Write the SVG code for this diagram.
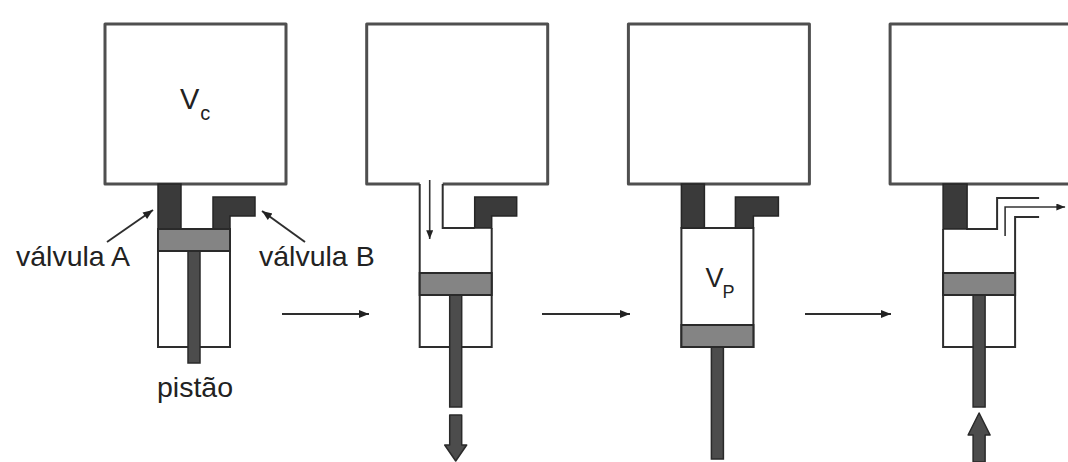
<svg xmlns="http://www.w3.org/2000/svg" width="1068" height="462" viewBox="0 0 1068 462">
  <style>
    .box { fill: #ffffff; stroke: #4f4f4f; stroke-width: 3; stroke-linejoin: round; }
    .wall { fill: none; stroke: #2e2e2e; stroke-width: 2; }
    .cyl { fill: #ffffff; stroke: #2e2e2e; stroke-width: 2; }
    .valve { fill: #3a3a3a; stroke: #262626; stroke-width: 1.5; }
    .piston { fill: #848484; stroke: #2a2a2a; stroke-width: 2; }
    .rod { fill: #4c4c4c; stroke: #2a2a2a; stroke-width: 1.5; }
    .push { fill: #4c4c4c; stroke: #2a2a2a; stroke-width: 1.5; stroke-linejoin: round; }
    .flow { fill: none; stroke: #333333; stroke-width: 1.6; }
    .conn { fill: none; stroke: #2e2e2e; stroke-width: 2; }
    .label { font-family: "Liberation Sans", Arial, sans-serif; font-size: 28.5px; fill: #222222; }
    .sym { font-family: "Liberation Sans", Arial, sans-serif; fill: #222222; }
  </style>
  <defs>
    <marker id="head" viewBox="0 0 10 8" refX="10" refY="4" markerWidth="12" markerHeight="8" markerUnits="userSpaceOnUse" orient="auto">
      <path d="M0,0 L10,4 L0,8 Z" fill="#222222"/>
    </marker>
    <marker id="headSmall" viewBox="0 0 10 8" refX="10" refY="4" markerWidth="9" markerHeight="7" markerUnits="userSpaceOnUse" orient="auto">
      <path d="M0,0 L10,4 L0,8 Z" fill="#222222"/>
    </marker>
  </defs>

  <!-- stage 1: piston at the top, both valves closed -->
  <g id="stage1" transform="translate(105,0)">
    <rect class="box" x="0" y="24" width="181" height="160"/>
    <text class="sym" x="75" y="109" font-size="29">V<tspan font-size="20" dx="1" dy="11">c</tspan></text>
    <rect class="cyl" x="53" y="229" width="72" height="118"/>
    <rect class="valve" x="53" y="184" width="23" height="45"/>
    <path class="valve" d="M108,229 V197 H150 V216 H125 V229 Z"/>
    <rect class="rod" x="83" y="251" width="12" height="112"/>
    <rect class="piston" x="53" y="229" width="72" height="22"/>
  </g>

  <!-- stage 2: valve A open, piston moving down -->
  <g id="stage2" transform="translate(366.7,0)">
    <path class="box" d="M53,184 H0 V24 H181 V184 H76"/>
    <path class="wall" d="M53,184 V347 H125 V228"/>
    <path class="wall" d="M76,184 V228 H108"/>
    <path class="valve" d="M108,228 V197 H150 V216 H125 V228 Z"/>
    <path class="flow" d="M63,180 V239" marker-end="url(#headSmall)"/>
    <rect class="rod" x="83" y="295" width="12" height="112"/>
    <rect class="piston" x="53" y="273" width="72" height="22"/>
    <path class="push" d="M83,415 H95 V445 H100 L89,461 L78,445 H83 Z"/>
  </g>

  <!-- stage 3: both valves closed, piston at the bottom -->
  <g id="stage3" transform="translate(628.4,0)">
    <rect class="box" x="0" y="24" width="181" height="160"/>
    <rect class="cyl" x="53" y="228" width="72" height="119"/>
    <rect class="valve" x="53" y="184" width="23" height="44"/>
    <path class="valve" d="M107,228 V197 H150 V216 H125 V228 Z"/>
    <text class="sym" x="77" y="287" font-size="27">V<tspan font-size="18" dx="-1" dy="11">P</tspan></text>
    <rect class="rod" x="83" y="347" width="12" height="112"/>
    <rect class="piston" x="53" y="325" width="72" height="22"/>
  </g>

  <!-- stage 4: valve B open, piston pushed up -->
  <g id="stage4" transform="translate(890.1,0)">
    <rect class="box" x="0" y="24" width="181" height="160"/>
    <path class="wall" d="M53,229 V347 H125 V217 H149"/>
    <path class="wall" d="M76,229 H107 V198 H149"/>
    <rect class="valve" x="53" y="184" width="24" height="45"/>
    <path class="flow" d="M115,236 V207 H175" marker-end="url(#headSmall)"/>
    <rect class="rod" x="83" y="295" width="12" height="112"/>
    <rect class="piston" x="53" y="273" width="72" height="22"/>
    <path class="push" d="M83,462 V435 H78 L89,413 L100,435 H95 V462 Z"/>
  </g>

  <!-- labels -->
  <g id="labels">
    <text class="label" x="16" y="266">válvula A</text>
    <text class="label" x="259" y="266">válvula B</text>
    <text class="label" x="157" y="397">pistão</text>
  </g>

  <!-- connectors: label pointers and stage-to-stage arrows -->
  <g id="connectors">
    <path class="conn" d="M107,242 L153,210" marker-end="url(#head)"/>
    <path class="conn" d="M305,242 L262,211" marker-end="url(#head)"/>
    <path class="conn" d="M282,314 H369" marker-end="url(#head)"/>
    <path class="conn" d="M542,314 H630" marker-end="url(#head)"/>
    <path class="conn" d="M805,314 H891" marker-end="url(#head)"/>
  </g>
</svg>
